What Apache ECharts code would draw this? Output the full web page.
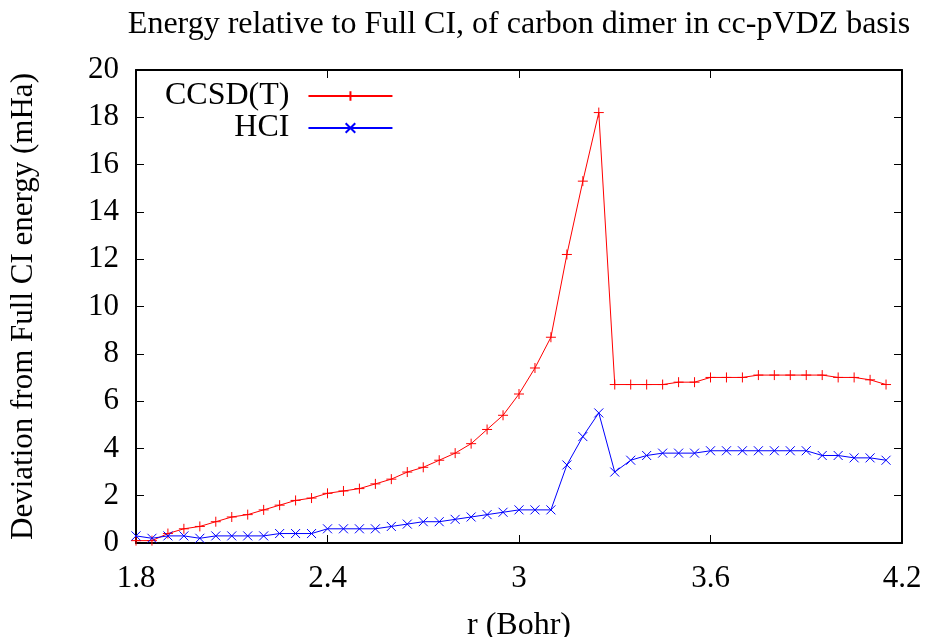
<!DOCTYPE html>
<html lang="en">
<head>
<meta charset="UTF-8">
<title>C2 energy vs Full CI</title>
<script src="https://cdn.jsdelivr.net/npm/echarts@6/dist/echarts.min.js"></script>
<style>
  html, body { margin: 0; padding: 0; background: #fff; }
  #chart { width: 929px; height: 637px; }
</style>
</head>
<body>
<div id="chart"></div>
<script>
// bond length r (Bohr), 1.8 .. 4.15 step 0.05
const rBohr = [
  1.80, 1.85, 1.90, 1.95, 2.00, 2.05, 2.10, 2.15, 2.20, 2.25, 2.30, 2.35,
  2.40, 2.45, 2.50, 2.55, 2.60, 2.65, 2.70, 2.75, 2.80, 2.85, 2.90, 2.95,
  3.00, 3.05, 3.10, 3.15, 3.20, 3.25, 3.30, 3.35, 3.40, 3.45, 3.50, 3.55,
  3.60, 3.65, 3.70, 3.75, 3.80, 3.85, 3.90, 3.95, 4.00, 4.05, 4.10, 4.15
];
// deviation from full CI (mHa)
const ccsdT = [
  0.1, 0.1, 0.4, 0.6, 0.7, 0.9, 1.1, 1.2, 1.4, 1.6, 1.8, 1.9,
  2.1, 2.2, 2.3, 2.5, 2.7, 3.0, 3.2, 3.5, 3.8, 4.2, 4.8, 5.4,
  6.3, 7.4, 8.7, 12.2, 15.3, 18.2, 6.7, 6.7, 6.7, 6.7, 6.8, 6.8,
  7.0, 7.0, 7.0, 7.1, 7.1, 7.1, 7.1, 7.1, 7.0, 7.0, 6.9, 6.7
];
const hci = [
  0.3, 0.2, 0.3, 0.3, 0.2, 0.3, 0.3, 0.3, 0.3, 0.4, 0.4, 0.4,
  0.6, 0.6, 0.6, 0.6, 0.7, 0.8, 0.9, 0.9, 1.0, 1.1, 1.2, 1.3,
  1.4, 1.4, 1.4, 3.3, 4.5, 5.5, 3.0, 3.5, 3.7, 3.8, 3.8, 3.8,
  3.9, 3.9, 3.9, 3.9, 3.9, 3.9, 3.9, 3.7, 3.7, 3.6, 3.6, 3.5
];
const xTicks = [1.8, 4.2, 0.6];   // min, max, step
const yTicks = [0, 20, 2];

const FONT = 'Liberation Serif';
const plus = 'path://M0,-1L0,1M-1,0L1,0';
const cross = 'path://M-1,-1L1,1M-1,1L1,-1';

function pairs(ys) { return rBohr.map((x, i) => [x, ys[i]]); }

const axisLineStyle = { color: '#000', width: 2 };
const tickStyle = { show: true, inside: true, length: 8, lineStyle: { color: '#000', width: 1 } };

function xAxisCfg(pos, labels) {
  return {
    type: 'value', position: pos,
    min: xTicks[0], max: xTicks[1], interval: xTicks[2],
    axisLine: { show: true, onZero: false, lineStyle: axisLineStyle },
    axisTick: tickStyle,
    splitLine: { show: false },
    axisLabel: { show: labels, color: '#000', fontFamily: FONT, fontSize: 31, margin: 20,
      formatter: v => String(Math.round(v * 10) / 10) }
  };
}
function yAxisCfg(pos, labels) {
  return {
    type: 'value', position: pos,
    min: yTicks[0], max: yTicks[1], interval: yTicks[2],
    axisLine: { show: true, onZero: false, lineStyle: axisLineStyle },
    axisTick: tickStyle,
    splitLine: { show: false },
    axisLabel: { show: labels, color: '#000', fontFamily: FONT, fontSize: 31, margin: 17 }
  };
}

const xMain = xAxisCfg('bottom', true);
xMain.name = 'r (Bohr)';
xMain.nameLocation = 'middle';
xMain.nameGap = 67;
xMain.nameTextStyle = { color: '#000', fontFamily: FONT, fontSize: 32 };

const yMain = yAxisCfg('left', true);
yMain.name = 'Deviation from Full CI energy (mHa)';
yMain.nameLocation = 'middle';
yMain.nameGap = 97;
yMain.nameTextStyle = { color: '#000', fontFamily: FONT, fontSize: 31 };

const chart = echarts.init(document.getElementById('chart'));
chart.setOption({
  animation: false,
  backgroundColor: '#fff',
  title: {
    text: 'Energy relative to Full CI, of carbon dimer in cc-pVDZ basis',
    left: 514, top: 4, textAlign: 'center',
    textStyle: { color: '#000', fontFamily: FONT, fontSize: 32, fontWeight: 'normal' }
  },
  grid: { left: 136, right: 27, top: 70, bottom: 94, outerBoundsMode: 'none', containLabel: false },
  xAxis: [xMain, xAxisCfg('top', false)],
  yAxis: [yMain, yAxisCfg('right', false)],
  legend: {
    orient: 'vertical', left: 160, top: 75, align: 'right',
    itemWidth: 84, itemHeight: 12, itemGap: 0,
    textStyle: { color: '#000', fontFamily: FONT, fontSize: 32, lineHeight: 32, padding: [0, 14, 0, 0] },
    data: ['CCSD(T)', 'HCI']
  },
  series: [
    {
      name: 'CCSD(T)', type: 'line', data: pairs(ccsdT),
      symbol: plus, symbolSize: 10, showAllSymbol: true,
      lineStyle: { color: '#ff0000', width: 1 },
      itemStyle: { color: '#ff0000', borderColor: '#ff0000', borderWidth: 1 }
    },
    {
      name: 'HCI', type: 'line', data: pairs(hci),
      symbol: cross, symbolSize: 9, showAllSymbol: true,
      lineStyle: { color: '#0000ff', width: 1 },
      itemStyle: { color: '#0000ff', borderColor: '#0000ff', borderWidth: 1 }
    }
  ]
});
</script>
</body>
</html>
